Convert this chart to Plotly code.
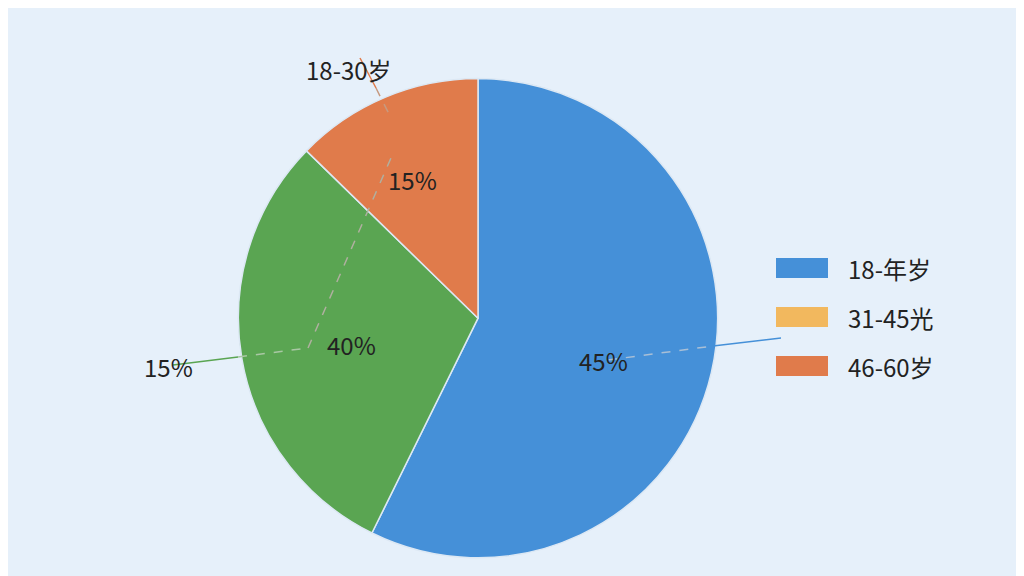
import plotly.graph_objects as go

W, H = 1024, 576
slice_names = ["18-30岁", "31-45岁", "46-60岁"]
slice_values = [57.3, 30.0, 12.7]
slice_colors = ["#4590d8", "#5aa552", "#e07b4b"]
inner_labels = ["45%", "40%", "15%"]
outer_labels = ["15%", "18-30岁"]
legend_labels = ["18-年岁", "31-45光", "46-60岁"]
legend_colors = ["#4590d8", "#f2b85e", "#e07b4b"]

def px(x, y):
    return x / W, 1 - y / H

fig = go.Figure(go.Pie(
    labels=slice_names, values=slice_values, sort=False, direction="clockwise",
    rotation=0, marker=dict(colors=slice_colors, line=dict(color="#dce8f4", width=1.5)),
    textinfo="none", hoverinfo="none", showlegend=False,
    domain=dict(x=[0.225, 0.693], y=[0.045, 0.878])))

shapes = []
def line(x0, y0, x1, y1, color, dash="solid", w=1.5):
    a = px(x0, y0); b = px(x1, y1)
    shapes.append(dict(type="line", xref="paper", yref="paper", x0=a[0], y0=a[1], x1=b[0], y1=b[1],
                       line=dict(color=color, width=w, dash=dash)))

line(705, 338, 773, 330, "#4590d8")
line(600, 352, 705, 338, "#a9bfd6", "dash")
line(165, 357, 230, 349, "#5aa552")
line(230, 349, 300, 340, "#a9c7a4", "dash")
line(300, 340, 383, 150, "#b0b0a0", "dash")
line(352, 50, 368, 80, "#e07b4b")
line(368, 80, 383, 110, "#c79a80", "dash")

font = dict(family="Noto Sans CJK SC", size=24, color="#222")
anns = []
for t, (x, y) in zip(inner_labels, [(595, 352), (317, 336), (404, 152)]):
    p = px(x, y)
    anns.append(dict(text=t, x=p[0], y=p[1], xref="paper", yref="paper", showarrow=False, font=font))
for t, (x, y) in zip(outer_labels, [(134, 358), (296, 42)]):
    p = px(x, y)
    anns.append(dict(text=t, x=p[0], y=p[1], xref="paper", yref="paper", showarrow=False, font=font))
for i, (t, c) in enumerate(zip(legend_labels, legend_colors)):
    y = 260 + i * 49
    a = px(768, y - 10); b = px(820, y + 10)
    shapes.append(dict(type="rect", xref="paper", yref="paper", x0=a[0], y0=b[1], x1=b[0], y1=a[1],
                       fillcolor=c, line=dict(width=0)))
    p = px(838, y)
    anns.append(dict(text=t, x=p[0], y=p[1], xref="paper", yref="paper", xanchor="left",
                     showarrow=False, font=font))

fig.update_layout(width=W, height=H, margin=dict(l=0, r=0, t=0, b=0),
                  paper_bgcolor="#e6f0fa", plot_bgcolor="#e6f0fa",
                  shapes=shapes, annotations=anns)
fig.write_html("out.html")
